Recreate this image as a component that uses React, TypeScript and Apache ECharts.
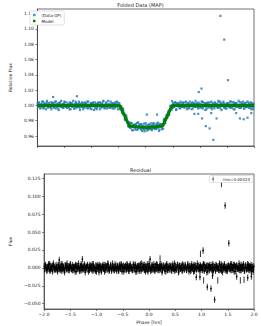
import React, { useEffect, useRef } from "react";
import * as echarts from "echarts";

// ---- data ----
// evenly sampled folded phases (hrs) for the bulk of the light curve
const PHASE_START = -1.995;
const PHASE_END = 1.995;
// residual scatter of the bulk points, in units of 1e-3
const NOISE_A = [
  2, -1, 4, 0, -3, 1, 5, -2, -4, 3, 0, -1, 2, 6, -3, 1, -2, 0, 4, -5,
  -1, 3, 1, -2, 5, -4, 0, 2, -1, -6, 3, 4, -2, 1, 0, -3, 2, 5, -1, -2,
  4, -3, 0, 1, -5, 2, 3, -1, -2, 6, 0, -4, 1, 3, -2, 2, -1, 5, -3, 0,
  1, -2, 3, -5, 0, 4, -1, 2, -3, 1, 5, -2, 0, -4, 3, 1, -1, 2, -6, 4,
  0, 2, -3, 1, 4, -1, -5, 3, 0, 2, -2, 6, -1, -3, 1, 4, -4, 0, 2, -1,
  -3, 5, 1, -2, 0, 3, -4, 2, 1, -1, 4, -5, 0, 3, -2, 1, 2, -3, 5, -1,
  2, -4, 0, 3, -1, 1, -3, 5, -2, 0, 4, -1, -5, 2, 1, -2, 3, 0, -4, 6,
  -1, 1, 4, -3, 2, 0, -2, 5, -5, 1, 3, -1, 0, -3, 4, 2, -2, 1, -4, 3,
  5, -2, 0, 1, -3, 4, -1, 2, -6, 0, 3, 1, -4, 2, -1, 5, -3, 0, 2, -2,
  1, 3, -4, 0, 2, -1, 6, -3, 1, -2, 4, 0, -5, 3, -1, 2, 1, -4, 0, 3,
  -2, 4, 1, -3, 0, 5, -1, -2, 3, -4, 2, 0, 1, -5, 4, -1, 3, -2, 0, 2,
  3, -1, -4, 2, 1, 0, -3, 5, -2, 4, -1, 1, -6, 3, 0, 2, -3, 1, 4, -2,
  0, -5, 3, 1, -2, 4, -1, 0, 2, -3, 6, -2, 1, -4, 3, 0, -1, 5, -3, 1,
  -4, 2, 0, 3, -1, -2, 5, 1, -3, 0, 4, -5, 2, 1, -2, 3, -1, 0, 6, -3,
  1, -3, 4, -1, 2, 0, -4, 3, 1, -2, 5, -1, -3, 2, 0, 4, -2, 1, -5, 2,
];
// a second interleaved set of samples (half a step later in phase)
const NOISE_B = [
  -2, 3, 0, -4, 1, 2, -1, 5, -3, 0, 2, -5, 4, 1, -1, 3, -2, 0, -3, 2,
  4, -1, -3, 2, 0, 5, -2, 1, -4, 3, 0, -1, 6, -2, 2, -3, 1, 4, -1, 0,
  -3, 1, 2, -2, 4, -5, 0, 3, 1, -1, -4, 2, 5, -3, 0, 1, -2, 3, -6, 2,
  0, 4, -2, 1, -3, 3, 2, -1, 5, -4, 1, 0, -2, 3, -5, 2, 4, -1, 0, -3,
  2, -5, 1, 3, -1, 0, 4, -3, 2, -2, 5, 1, -4, 0, 3, -1, -2, 6, 1, -3,
  1, -1, 3, -4, 2, 0, -3, 4, -1, 5, -2, 2, 0, -5, 1, 3, -2, -1, 4, 0,
  -4, 2, 5, -1, 0, -3, 1, 3, -2, 4, -5, 0, 2, -1, 3, -4, 1, 5, -2, 0,
  3, 0, -2, 4, -5, 1, 2, -3, 0, 6, -1, -4, 3, 1, -2, 0, 5, -3, 2, -1,
  -1, 4, -3, 0, 2, -2, 5, 1, -4, 3, 0, -1, 2, -5, 4, 1, -3, 0, 3, -2,
  2, -3, 1, 5, -1, -4, 0, 3, -2, 1, 4, -6, 2, 0, -1, 3, -3, 5, 0, -2,
  0, 3, -1, -2, 4, 1, -5, 2, 0, -3, 5, -1, 1, 3, -4, 0, 2, -2, 6, -1,
  -2, 1, 4, -3, 0, 2, -1, 5, -4, 1, 0, 3, -2, -5, 2, 4, -1, 0, 1, -3,
  5, -2, 0, 1, -4, 3, 2, -1, 0, -3, 4, -2, 5, 1, -6, 2, 0, 3, -1, -2,
  1, -4, 3, 0, 2, -1, -3, 5, 1, -2, 0, 4, -5, 2, 3, -1, 1, -2, 0, 4,
  -3, 0, 2, -1, 5, -4, 1, 3, -2, 0, -1, 4, 2, -3, 1, -5, 3, 0, -2, 1,
];
const NOISE_UNIT = 0.001;
const ERR = 0.0045;

// transit model
const MODEL_PHASE = [-2, -0.48, -0.3, 0, 0.31, 0.49, 2];
const MODEL_FLUX = [1, 1, 0.973, 0.971, 0.973, 1, 1];

// outliers in the folded data (Data-GP)
const TOP_OUT_PHASE = [-1.71, -1.27, 0.02, 0.21, 0.9, 0.97, 0.98, 1.03, 1.04, 1.11, 1.18, 1.21, 1.25, 1.31, 1.38, 1.45, 1.52, 1.67, 1.74, 1.81, 1.88, 1.95];
const TOP_OUT_FLUX = [1.011, 1.012, 0.988, 0.988, 0.989, 0.989, 1.0175, 1.022, 0.983, 0.973, 0.97, 0.99, 0.955, 0.983, 1.117, 1.086, 1.033, 0.99, 0.983, 0.982, 0.984, 0.99];

// outliers in the residual
const RES_OUT_PHASE = [-1.71, -1.27, 0.02, 0.21, 0.9, 0.97, 0.98, 1.03, 1.04, 1.11, 1.18, 1.21, 1.25, 1.31, 1.38, 1.45, 1.52, 1.67, 1.74, 1.81, 1.88, 1.95];
const RES_OUT = [0.011, 0.012, 0.012, 0.013, -0.0128, -0.0128, 0.0196, 0.0242, -0.0175, -0.0267, -0.029, -0.011, -0.0444, -0.0175, 0.117, 0.0869, 0.0345, -0.012, -0.0175, -0.0166, -0.0138, -0.012];

// axes ticks
const X_TICKS = [-2, -1.5, -1, -0.5, 0, 0.5, 1, 1.5, 2];
const TOP_Y_TICKS = [0.96, 0.98, 1.0, 1.02, 1.04, 1.06, 1.08, 1.1, 1.12];
const RES_Y_TICKS = [-0.05, -0.025, 0, 0.025, 0.05, 0.075, 0.1, 0.125];
const TOP_Y_RANGE = [0.947, 1.126];
const RES_Y_RANGE = [-0.0574, 0.131];
const RMS_LABEL = "rms=0.00324";

function modelAt(p: number): number {
  for (let i = 0; i < MODEL_PHASE.length - 1; i++) {
    if (p >= MODEL_PHASE[i] && p <= MODEL_PHASE[i + 1]) {
      const t = (p - MODEL_PHASE[i]) / (MODEL_PHASE[i + 1] - MODEL_PHASE[i]);
      return MODEL_FLUX[i] + t * (MODEL_FLUX[i + 1] - MODEL_FLUX[i]);
    }
  }
  return 1;
}

const minus = (s: string) => s.replace("-", "\u2212");

export default function App() {
  const ref = useRef<HTMLDivElement>(null);
  useEffect(() => {
    document.body.style.margin = "0";
    const chart = echarts.init(ref.current!, null, { renderer: "svg" });
    const n = NOISE_A.length;
    const step = (PHASE_END - PHASE_START) / (n - 1);
    const samples: [number, number][] = [];
    NOISE_A.forEach((v, i) => samples.push([PHASE_START + i * step, v]));
    NOISE_B.forEach((v, i) => samples.push([PHASE_START + (i + 0.5) * step, v]));
    const bulk = samples.filter((s) => s[0] <= 2);
    const topData = bulk.map(([p, v]) => [p, modelAt(p) + v * NOISE_UNIT]);
    TOP_OUT_PHASE.forEach((p, i) => topData.push([p, TOP_OUT_FLUX[i]]));
    const resData = bulk.map(([p, v]) => [p, v * NOISE_UNIT, ERR]);
    RES_OUT_PHASE.forEach((p, i) => resData.push([p, RES_OUT[i], ERR]));
    const modelData = MODEL_PHASE.map((p, i) => [p, MODEL_FLUX[i]]);

    const font = "DejaVu Sans";
    const axisLine = { show: true, onZero: false, lineStyle: { color: "#333", width: 0.7 } };
    const axisTick = { show: true, length: 2, lineStyle: { color: "#333", width: 0.6 } };
    const xAxisBase = {
      type: "value",
      min: -2,
      max: 2,
      axisLine,
      splitLine: { show: false },
    };

    const option: any = {
      animation: false,
      textStyle: { fontFamily: font },
      grid: [
        { left: 27, top: 9, width: 227, height: 137, show: true, borderColor: "#333", borderWidth: 0.7 },
        { left: 27, top: 174, width: 227, height: 135, show: true, borderColor: "#333", borderWidth: 0.7 },
      ],
      xAxis: [
        {
          ...xAxisBase,
          gridIndex: 0,
          axisTick: { ...axisTick, customValues: X_TICKS },
          axisLabel: { show: false },
        },
        {
          ...xAxisBase,
          gridIndex: 1,
          name: "Phase [hrs]",
          nameLocation: "middle",
          nameGap: 11,
          nameTextStyle: { fontSize: 4.5, color: "#222", fontFamily: font },
          axisTick: { ...axisTick, customValues: X_TICKS },
          axisLabel: {
            customValues: X_TICKS,
            fontSize: 4.5,
            color: "#222",
            margin: 3,
            fontFamily: font,
            formatter: (v: number) => minus(v.toFixed(1)),
          },
        },
      ],
      yAxis: [
        {
          type: "value",
          gridIndex: 0,
          min: TOP_Y_RANGE[0],
          max: TOP_Y_RANGE[1],
          axisLine,
          splitLine: { show: false },
          axisTick: { ...axisTick, customValues: TOP_Y_TICKS },
          axisLabel: {
            customValues: TOP_Y_TICKS,
            fontSize: 4.5,
            color: "#222",
            margin: 3.5,
            fontFamily: font,
            formatter: (v: number) => v.toFixed(2),
          },
          name: "Relative Flux",
          nameLocation: "middle",
          nameGap: 14,
          nameTextStyle: { fontSize: 4.5, color: "#222", fontFamily: font },
        },
        {
          type: "value",
          gridIndex: 1,
          min: RES_Y_RANGE[0],
          max: RES_Y_RANGE[1],
          axisLine,
          splitLine: { show: false },
          axisTick: { ...axisTick, customValues: RES_Y_TICKS },
          axisLabel: {
            customValues: RES_Y_TICKS,
            fontSize: 4.5,
            color: "#222",
            margin: 3.5,
            fontFamily: font,
            formatter: (v: number) => minus(v.toFixed(3)),
          },
          name: "Flux",
          nameLocation: "middle",
          nameGap: 20,
          nameTextStyle: { fontSize: 4.5, color: "#222", fontFamily: font },
        },
      ],
      legend: [
        {
          data: [
            { name: "(Data-GP)", icon: "rect" },
            { name: "Model", icon: "rect" },
          ],
          orient: "vertical",
          left: 30,
          top: 11,
          itemWidth: 2.5,
          itemHeight: 2.5,
          itemGap: 2,
          padding: [2, 3, 2, 3],
          borderColor: "#ccc",
          borderWidth: 0.6,
          borderRadius: 1.5,
          backgroundColor: "#fff",
          textStyle: { fontSize: 4, color: "#222", fontFamily: font, padding: [0, 0, 0, 1] },
        },
        {
          data: [{ name: RMS_LABEL, icon: "path://M4.6,0h0.8v10h-0.8z M3.6,4h2.8v2h-2.8z" }],
          right: 8,
          top: 175.5,
          itemWidth: 3,
          itemHeight: 5,
          padding: [1, 3, 1, 3],
          borderColor: "#ccc",
          borderWidth: 0.6,
          borderRadius: 1.5,
          backgroundColor: "#fff",
          textStyle: { fontSize: 4, color: "#222", fontFamily: font, padding: [0, 0, 0, 3] },
        },
      ],
      graphic: [
        {
          type: "text",
          x: 140.5,
          y: 5,
          style: { text: "Folded Data (MAP)", fontSize: 5, fill: "#222", fontFamily: font, textAlign: "center", textVerticalAlign: "middle" },
        },
        {
          type: "text",
          x: 140.5,
          y: 169.5,
          style: { text: "Residual", fontSize: 5, fill: "#222", fontFamily: font, textAlign: "center", textVerticalAlign: "middle" },
        },
      ],
      series: [
        {
          name: "(Data-GP)",
          type: "scatter",
          xAxisIndex: 0,
          yAxisIndex: 0,
          data: topData,
          symbol: "rect",
          symbolSize: 2.2,
          itemStyle: { color: "#1f77b4" },
          silent: true,
          z: 2,
        },
        {
          name: "Model",
          type: "line",
          xAxisIndex: 0,
          yAxisIndex: 0,
          data: modelData,
          showSymbol: false,
          lineStyle: { color: "#008000", width: 3 },
          itemStyle: { color: "#008000" },
          silent: true,
          z: 3,
        },
        {
          name: RMS_LABEL,
          type: "custom",
          xAxisIndex: 1,
          yAxisIndex: 1,
          data: resData,
          encode: { x: 0, y: 1 },
          itemStyle: { color: "#000" },
          silent: true,
          renderItem: (params: any, api: any) => {
            const x = api.value(0);
            const y = api.value(1);
            const e = api.value(2);
            const a = api.coord([x, y + e]);
            const b = api.coord([x, y - e]);
            const c = api.coord([x, y]);
            return {
              type: "group",
              children: [
                { type: "line", shape: { x1: a[0], y1: a[1], x2: b[0], y2: b[1] }, style: { stroke: "#000", lineWidth: 0.8 } },
                { type: "circle", shape: { cx: c[0], cy: c[1], r: 0.8 }, style: { fill: "#000" } },
              ],
            };
          },
        },
      ],
    };
    chart.setOption(option);
    return () => chart.dispose();
  }, []);
  return <div ref={ref} style={{ width: 261, height: 326 }} />;
}
